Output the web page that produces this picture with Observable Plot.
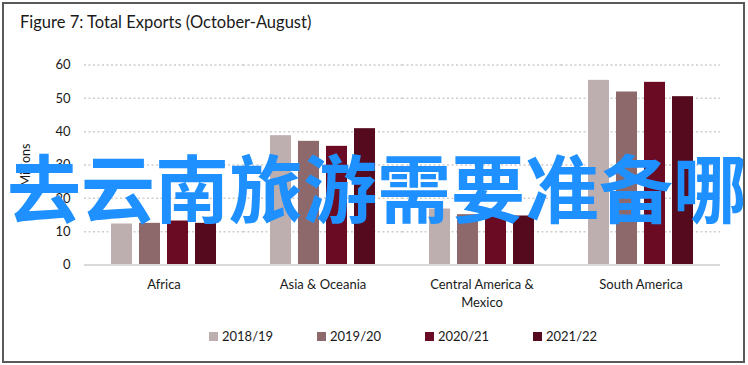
<!DOCTYPE html>
<html>
<head>
<meta charset="utf-8">
<script src="https://cdn.jsdelivr.net/npm/d3@7"></script>
<script src="https://cdn.jsdelivr.net/npm/@observablehq/plot@0.6"></script>
<style>
  html, body { margin: 0; padding: 0; background: #fff; }
  #wrap { position: relative; width: 748px; height: 365px; overflow: hidden; font-family: Lato, "Noto Sans", sans-serif; color: #1a1a1a; }
  #frame { position: absolute; left: 2px; top: 2px; width: 739px; height: 357px; border: 2px solid #595959; box-sizing: content-box; pointer-events: none; }
  #title { position: absolute; left: 20px; top: 12px; font-size: 16.5px; line-height: 20px; white-space: nowrap; color: #1a1a1a; }
  #ylabel { position: absolute; left: 25px; top: 165px; font-size: 12.5px; transform: translate(-50%, -50%) rotate(-90deg); white-space: nowrap; }
  #legend { position: absolute; top: 327px; left: 0; height: 18px; }
  .item { position: absolute; top: 0; height: 18px; line-height: 18px; font-size: 13px; white-space: nowrap; }
  .sw { position: absolute; left: 0; top: 4.5px; width: 9px; height: 9px; }
  .lab { position: absolute; left: 13px; top: 0; }
  #overlay { position: absolute; left: 7px; top: 148px; font-family: "Noto Sans CJK SC", sans-serif; font-weight: 700; font-size: 74px; line-height: 1; color: #1e90ff; white-space: nowrap; pointer-events: none; }
  #plot { position: absolute; left: 0; top: 0; }
</style>
</head>
<body>
<div id="wrap">
  <div id="plot"></div>
  <div id="title"></div>
  <div id="ylabel"></div>
  <div id="legend"></div>
  <div id="overlay"></div>
  <div id="frame"></div>
</div>
<script>
// ---- data ----
const titleText = "Figure 7: Total Exports (October-August)";
const yLabelText = "Millions";
const overlayText = "去云南旅游需要准备哪";
const regions = ["Africa", "Asia & Oceania", "Central America & Mexico", "South America"];
const regionLabels = ["Africa", "Asia & Oceania", "Central America &\nMexico", "South America"];
const years = ["2018/19", "2019/20", "2020/21", "2021/22"];
const v2018_19 = [12.3, 38.8, 16.8, 55.4];
const v2019_20 = [12.5, 37.1, 15.1, 51.9];
const v2020_21 = [13.2, 35.6, 15.6, 54.8];
const v2021_22 = [12.5, 40.9, 14.7, 50.5];
const yTicks = [0, 10, 20, 30, 40, 50, 60];
const colors = ["#bdafaf", "#8d696c", "#6b0a23", "#560a1e"];

// ---- build table ----
const series = [v2018_19, v2019_20, v2020_21, v2021_22];
const data = [];
regions.forEach((r, i) => years.forEach((y, j) => data.push({region: r, year: y, value: series[j][i]})));
const labelOf = new Map(regions.map((r, i) => [r, regionLabels[i]]));

const chart = Plot.plot({
  width: 748,
  height: 365,
  marginLeft: 83,
  marginRight: 28,
  marginTop: 64.5,
  marginBottom: 100.5,
  style: {fontFamily: "Lato, 'Noto Sans', sans-serif", fontSize: "13px", color: "#1a1a1a", background: "transparent", overflow: "visible"},
  fx: {domain: regions, padding: 0, label: null},
  x: {domain: years, paddingInner: 0.24, paddingOuter: 0.9, axis: null},
  y: {domain: [0, 60], axis: null},
  color: {domain: years, range: colors},
  marks: [
    Plot.ruleY(yTicks.filter(d => d > 0), {stroke: "#cdcdcd", strokeWidth: 1.5, strokeDasharray: "2,2.5"}),
    Plot.barY(data, {fx: "region", x: "year", y: "value", fill: "year"}),
    Plot.ruleY([0], {stroke: "#d9d9d9", strokeWidth: 2}),
    Plot.axisY({ticks: yTicks, tickSize: 0, tickPadding: 14, fontSize: 13, label: null}),
    Plot.axisFx({anchor: "bottom", tickSize: 0, tickPadding: 11, fontSize: 13, lineHeight: 1.38, label: null, tickFormat: d => labelOf.get(d)})
  ]
});
document.getElementById("plot").appendChild(chart);

document.getElementById("title").textContent = titleText;
document.getElementById("ylabel").textContent = yLabelText;
document.getElementById("overlay").textContent = overlayText;

const legend = d3.select("#legend");
const legendX = [209, 317, 425, 533];
years.forEach((y, i) => {
  const it = legend.append("div").attr("class", "item").style("left", legendX[i] + "px");
  it.append("div").attr("class", "sw").style("background", colors[i]);
  it.append("div").attr("class", "lab").text(y);
});
</script>
</body>
</html>
